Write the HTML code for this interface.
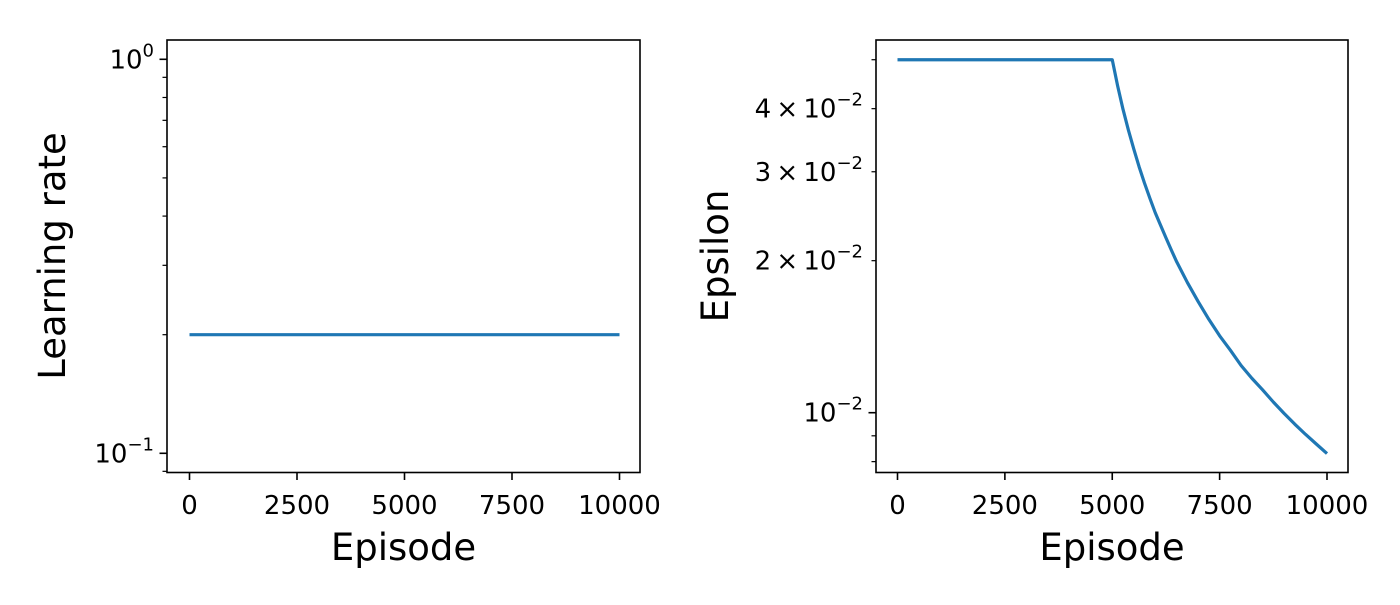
<!DOCTYPE html>
<html><head><meta charset="utf-8"><style>
html,body{margin:0;padding:0;background:#fff;}
svg text{font-family:"DejaVu Sans","Liberation Sans",sans-serif;fill:#000;}
</style></head><body>
<svg id="c" width="1400" height="600" xmlns="http://www.w3.org/2000/svg"></svg>
<script>
const lrEpisodes = [0, 10000];
const lrValues = [0.2, 0.2];
const epsEpisodes = [0, 5000, 5125, 5250, 5375, 5500, 5625, 5750, 5875, 6000, 6125, 6250, 6375, 6500, 6750, 7000, 7250, 7500, 7750, 8000, 8250, 8500, 8750, 9000, 9250, 9500, 9750, 10000];
const epsValues = [0.05, 0.05, 0.0444, 0.0399, 0.0363, 0.0333, 0.0307, 0.0285, 0.0266, 0.0249, 0.0235, 0.0222, 0.0210, 0.0199, 0.0181, 0.0166, 0.0153, 0.0142, 0.0133, 0.0124, 0.0117, 0.0111, 0.0105, 0.00997, 0.00949, 0.00906, 0.00867, 0.0083];
const xTicks = [0, 2500, 5000, 7500, 10000];
const xTickLabels = ["0", "2500", "5000", "7500", "10000"];

const NS = "http://www.w3.org/2000/svg";
const svg = document.getElementById('c');
function mk(tag, attrs, parent) {
  const e = document.createElementNS(NS, tag);
  for (const k in attrs) e.setAttribute(k, attrs[k]);
  (parent || svg).appendChild(e);
  return e;
}

function panel(cfg) {
  const g = mk('g', {});
  
  
  const X = v => cfg.x0 + (v - 0) / 10000 * (cfg.x1 - cfg.x0);
  const Y = v => cfg.yRef - (Math.log10(v) - cfg.logRef) * cfg.pxDec;
  let d = '';
  cfg.xs.forEach((xv, i) => { d += (i ? 'L' : 'M') + X(xv).toFixed(2) + ',' + Y(cfg.ys[i]).toFixed(2); });
  const p = mk('path', {d: d, fill: 'none', stroke: '#1f77b4', 'stroke-width': 3.2, 'stroke-linejoin': 'round'}, g);
  
  
  const r = mk('rect', {x: cfg.L, y: 40, width: cfg.R - cfg.L, height: 432.5, fill: 'none', stroke: '#000', 'stroke-width': 1.6}, g);
  
  
  xTicks.forEach((t, i) => {
    const x = X(t);
    mk('line', {x1: x, x2: x, y1: 472.5, y2: 480, stroke: '#000', 'stroke-width': 1.6}, g);
    const tx = mk('text', {x: x, y: 514, 'font-size': 26, 'text-anchor': 'middle'}, g);
    tx.textContent = xTickLabels[i];
    
    
  });
  cfg.yTicks.forEach(t => {
    const y = Y(t.v);
    mk('line', {x1: cfg.L, x2: cfg.L - (t.major ? 7.5 : 4.5), y1: y, y2: y, stroke: '#000', 'stroke-width': t.major ? 1.6 : 1.2}, g);
    if (t.m) {
      const tx = mk('text', {x: cfg.L - 13, y: y + 9, 'font-size': 26, 'text-anchor': 'end'}, g);
      
      
      tx.setAttribute('xml:space', 'preserve');
      const a = mk('tspan', {}, tx); a.textContent = t.m;
      const b = mk('tspan', {dy: -12, 'font-size': 18}, tx); b.textContent = t.e;
    }
  });
  const xl = mk('text', {x: (cfg.L + cfg.R) / 2, y: 560, 'font-size': 37, 'text-anchor': 'middle'}, g);
  xl.textContent = 'Episode';
  
  
  const yl = mk('text', {x: 0, y: 0, 'font-size': 37, 'text-anchor': 'middle', transform: `translate(${cfg.ylx},256) rotate(-90)`}, g);
  yl.textContent = cfg.ylabel;
  
  
}

panel({name: 'learning-rate-panel', seriesName: 'learning-rate-line', L: 167, R: 640, x0: 189.5, x1: 619.5,
  yRef: 59.3, logRef: 0, pxDec: 394, xs: lrEpisodes, ys: lrValues, ylabel: 'Learning rate', ylx: 65,
  yTicks: [{v: 1, major: true, m: '10', e: '0'}, {v: 0.1, major: true, m: '10', e: '\u22121'},
    {v: 0.09}, {v: 0.2}, {v: 0.3}, {v: 0.4}, {v: 0.5}, {v: 0.6}, {v: 0.7}, {v: 0.8}, {v: 0.9}]});
panel({name: 'epsilon-panel', seriesName: 'epsilon-line', L: 876, R: 1348, x0: 897.5, x1: 1327,
  yRef: 412.7, logRef: -2, pxDec: 505, xs: epsEpisodes, ys: epsValues, ylabel: 'Epsilon', ylx: 728,
  yTicks: [{v: 0.01, major: true, m: '10', e: '\u22122'}, {v: 0.02, m: '2\u2009\u00d7\u200910', e: '\u22122'},
    {v: 0.03, m: '3\u2009\u00d7\u200910', e: '\u22122'}, {v: 0.04, m: '4\u2009\u00d7\u200910', e: '\u22122'}, {v: 0.05}, {v: 0.008}, {v: 0.009}]});
</script>
</body></html>
